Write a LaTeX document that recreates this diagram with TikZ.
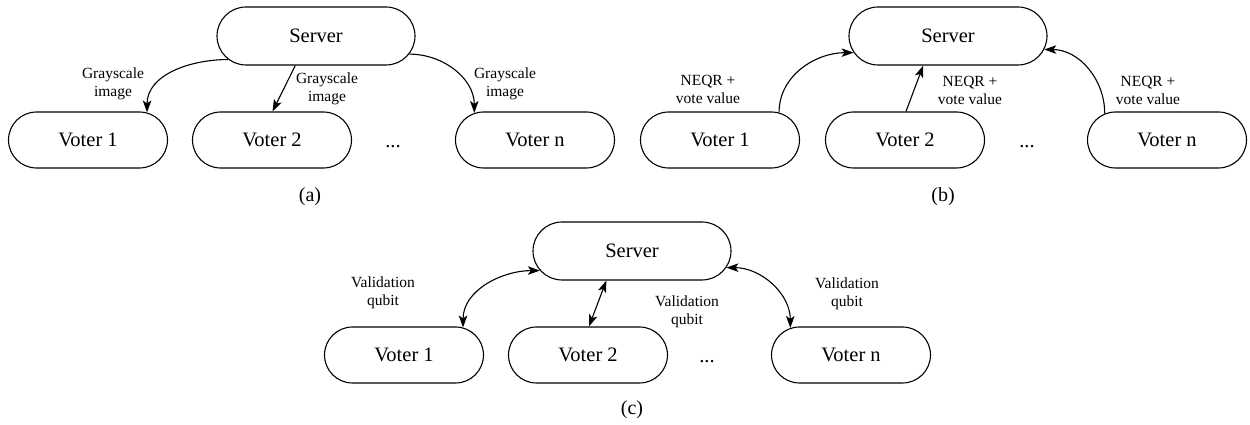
\documentclass[tikz,border=0pt]{standalone}
\usepackage{fontspec}
\setmainfont{Liberation Serif}
\newfontfamily\tnr{Liberation Serif}
\usetikzlibrary{shapes.misc,arrows.meta}
\begin{document}
\begin{tikzpicture}[x=1pt,y=1pt,
  party/.style={draw,rounded rectangle,line width=1.1pt,minimum width=159pt,minimum height=56pt,inner sep=0pt,font=\tnr\fontsize{20.5}{24}\selectfont},
  srv/.style={party,minimum width=198pt,minimum height=58pt},
  lab/.style={align=center,inner sep=0pt,font=\tnr\fontsize{15.5}{18}\selectfont},
  dotsnode/.style={anchor=base,inner sep=0pt,font=\tnr\fontsize{20.5}{24}\selectfont},
  captext/.style={inner sep=0pt,font=\tnr\fontsize{20}{24}\selectfont},
  tip/.tip={Stealth[length=12pt,width=8.5pt,inset=3pt]},
  link/.style={line width=1.1pt,-tip},
  dlink/.style={line width=1.1pt,tip-tip}]
\useasboundingbox (0,0) rectangle (1250,425);
% ---------- (a)
\node[srv] (Sa) at (316,389) {Server};
\node[party] (Va1) at (88,285) {Voter 1};
\node[party] (Va2) at (272,285) {Voter 2};
\node[party] (Van) at (535,285) {Voter n};
\node[dotsnode] (Da) at (393,277) {...};
\node[lab] (La1) at (113,341) {Grayscale\\image};
\node[lab] (La2) at (327,336) {Grayscale\\image};
\node[lab] (La3) at (505,341) {Grayscale\\image};
\node[captext] (Ca) at (310,228.5) {(a)};
\draw[link] (Sa.195) to[out=180,in=90] (Va1.25);
\draw[link] (Sa.235) -- (Va2.89);
\draw[link] (Sa.349) to[out=0,in=90] (Van.156);
% ---------- (b)
\node[srv] (Sb) at (948,389) {Server};
\node[party] (Vb1) at (720,285) {Voter 1};
\node[party] (Vb2) at (905,285) {Voter 2};
\node[party] (Vbn) at (1167,285) {Voter n};
\node[dotsnode] (Db) at (1027,277) {...};
\node[lab] (Lb1) at (708,336) {NEQR +\\vote value};
\node[lab] (Lb2) at (970,334.5) {NEQR +\\vote value};
\node[lab] (Lb3) at (1148,334.5) {NEQR +\\vote value};
\node[captext] (Cb) at (943,228.5) {(b)};
\draw[link] (Vb1.25) to[out=90,in=180] (Sb.190);
\draw[link] (Vb2.88) -- (Sb.230);
\draw[link] (Vbn.157) to[out=90,in=0] (Sb.352);
% ---------- (c)
\node[srv] (Sc) at (632,174) {Server};
\node[party] (Vc1) at (404,70) {Voter 1};
\node[party] (Vc2) at (588,70) {Voter 2};
\node[party] (Vcn) at (851,70) {Voter n};
\node[dotsnode] (Dc) at (707,62) {...};
\node[lab] (Lc1) at (383,132) {Validation\\qubit};
\node[lab] (Lc2) at (687,113) {Validation\\qubit};
\node[lab] (Lc3) at (847,131) {Validation\\qubit};
\node[captext] (Cc) at (632,15) {(c)};
\draw[dlink] (Vc1.25) to[out=90,in=180] (Sc.192);
\draw[dlink] (Vc2.88) -- (Sc.229);
\draw[dlink] (Sc.350) to[out=0,in=90] (Vcn.156);
\end{tikzpicture}
\end{document}
